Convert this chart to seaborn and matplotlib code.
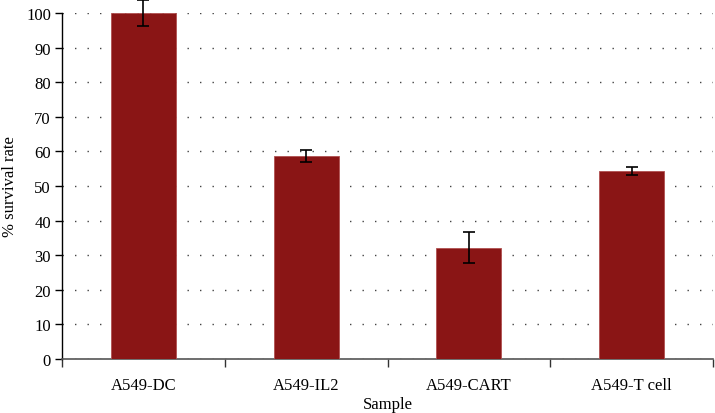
import matplotlib
matplotlib.use("Agg")
import matplotlib.pyplot as plt
import seaborn as sns
import pandas as pd
from matplotlib.ticker import FixedLocator, NullFormatter

categories = ["A549-DC", "A549-IL2", "A549-CART", "A549-T cell"]
values = [100.0, 58.6, 32.2, 54.4]
errors = [3.8, 1.8, 4.5, 1.2]
yticks = [0, 10, 20, 30, 40, 50, 60, 70, 80, 90, 100]

df = pd.DataFrame({"Sample": categories, "rate": values})

sns.set_theme(style="white")
plt.rcParams["font.family"] = ["Liberation Serif", "DejaVu Serif"]

fig = plt.figure(figsize=(7.15, 4.14), dpi=100)
ax = fig.add_axes([62/715, 54/414, (713-62)/715, (360-14)/414])

sns.barplot(data=df, x="Sample", y="rate", color="#8A1515", saturation=1,
            width=0.4, errorbar=None, ax=ax, zorder=3, edgecolor="#b05050", linewidth=0.6)
ax.errorbar(range(len(categories)), values, yerr=errors, fmt="none",
            ecolor="black", elinewidth=1.2, capsize=4, capthick=1.2, zorder=4, clip_on=False)

ax.set_ylim(0, 100)
ax.set_xlim(-0.5, len(categories) - 0.5)
ax.set_yticks(yticks)
ax.yaxis.grid(True, linestyle=(0, (1, 8)), color="#444444", linewidth=1.0, zorder=0)
ax.xaxis.grid(False)

for s in ["top", "right"]:
    ax.spines[s].set_visible(False)
ax.spines["left"].set_color("black")
ax.spines["left"].set_linewidth(1.0)
ax.spines["bottom"].set_color("#555555")
ax.spines["bottom"].set_linewidth(1.2)

ax.tick_params(axis="y", which="major", left=True, length=5, width=1, color="black",
               labelsize=12, labelcolor="black", pad=3)
ax.tick_params(axis="x", which="major", bottom=False, length=0, labelsize=12, labelcolor="black", pad=13)
ax.xaxis.set_minor_locator(FixedLocator([-0.5 + i for i in range(len(categories) + 1)]))
ax.xaxis.set_minor_formatter(NullFormatter())
ax.tick_params(axis="x", which="minor", bottom=True, length=6, width=1, color="#333333")

ax.set_xlabel("Sample", fontsize=12, color="black", labelpad=2)
ax.set_ylabel("% survival rate", fontsize=12, color="black", labelpad=6)

fig.savefig("out.png", dpi=100)
